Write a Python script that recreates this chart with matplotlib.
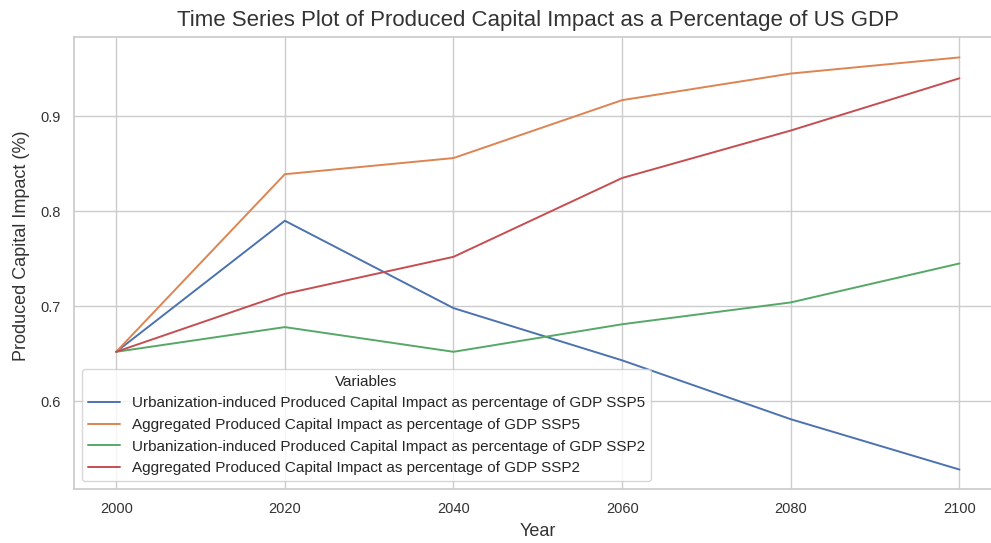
import matplotlib
matplotlib.use("Agg")
import matplotlib.pyplot as plt
import seaborn as sns

years = [2000, 2020, 2040, 2060, 2080, 2100]

urban_ssp5 = [0.652, 0.790, 0.698, 0.643, 0.581, 0.528]
agg_ssp5 = [0.652, 0.839, 0.856, 0.917, 0.945, 0.962]
urban_ssp2 = [0.652, 0.678, 0.652, 0.681, 0.704, 0.745]
agg_ssp2 = [0.652, 0.713, 0.752, 0.835, 0.885, 0.940]

labels = [
    "Urbanization-induced Produced Capital Impact as percentage of GDP SSP5",
    "Aggregated Produced Capital Impact as percentage of GDP SSP5",
    "Urbanization-induced Produced Capital Impact as percentage of GDP SSP2",
    "Aggregated Produced Capital Impact as percentage of GDP SSP2",
]
series = [urban_ssp5, agg_ssp5, urban_ssp2, agg_ssp2]

sns.set_theme(style="whitegrid")
plt.rcParams["font.family"] = ["Liberation Sans", "DejaVu Sans"]

fig = plt.figure(figsize=(9.91, 5.43), dpi=100)
ax = fig.add_axes([0.0747, 0.0994, 0.936, 0.8325])

colors = sns.color_palette("deep")
for vals, lab, c in zip(series, labels, colors):
    ax.plot(years, vals, label=lab, color=c, linewidth=1.4)

ax.set_title("Time Series Plot of Produced Capital Impact as a Percentage of US GDP",
             fontsize=16, color="#333333", pad=8)
ax.set_xlabel("Year", fontsize=13, color="#333333", labelpad=5)
ax.set_ylabel("Produced Capital Impact (%)", fontsize=13, color="#333333")
ax.yaxis.set_label_coords(-0.047, 0.538)
ax.set_xticks(years)
ax.set_yticks([0.6, 0.7, 0.8, 0.9])
ax.tick_params(labelsize=10.5, colors="#333333")
ax.set_xlim(1995, 2105)
ax.set_ylim(0.5075, 0.9835)

leg = ax.legend(title="Variables", loc="lower left", fontsize=11, title_fontsize=11,
                labelspacing=0.5, handlelength=2.1)

fig.savefig("out.png", dpi=100)
